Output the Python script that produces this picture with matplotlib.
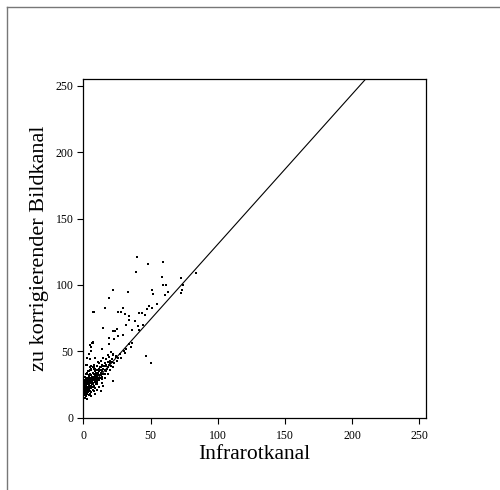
import matplotlib
matplotlib.use('Agg')
import matplotlib.pyplot as plt
from matplotlib.lines import Line2D

# Werte
infrarot = [
    # dichte Wolke nahe Ursprung
    1, 2, 3, 4, 1, 3, 5, 6,
    0.5, 1, 2, 2.5, 3, 4, 5, 6, 7, 8, 1.5, 0.5,
    0.5, 1, 2, 3, 3.5, 4, 5, 6, 7, 8, 9, 10, 2,
    0.5, 1, 2, 3, 4, 5, 6, 7, 8, 9, 10, 11, 12, 6, 3,
    1, 2, 4, 5, 6, 7, 8, 9, 10, 11, 12, 13, 14, 15, 3,
    4, 6, 7, 8, 9, 10, 11, 12, 13, 14, 15, 16, 17, 5,
    3, 6, 8, 10, 12, 14, 15, 16, 17, 18, 19, 20, 11,
    5, 9, 13, 15, 17, 19, 21, 22, 24, 25, 18, 23, 26,
    9, 10, 12, 14, 16, 18, 20, 22, 13, 15, 22.3,
    2, 3, 4, 6, 5, 7, 0.5, 1.5, 2.5, 4.5, 5.5, 6.5, 7.5, 8.5, 9.5, 11.5,
    1, 2, 3.5, 4.5, 5.5, 6.5, 7.5, 8.5, 9.5, 10.5, 11.5, 12.5, 13.5, 14.5,
    0.5, 1.5, 2.5, 3.5, 4.5, 5.5, 6.5, 7.5, 8.5, 9.5, 10.5, 11.5, 12.5,
    1.5, 2.5, 3.5, 4.5, 5.5, 6.5, 7.5, 8.5, 9.5, 10.5, 12, 13.5, 15.5, 16.5,
    0.5, 1, 1.5, 2, 3, 4, 2.5, 3.5, 5, 6, 7, 8, 9, 10,
    17.5, 18.5, 19.5, 20.5, 21.5, 16, 14, 12, 10.5, 27, 28, 30,
    # verstreute Punkte
    40.2, 59.5, 48.4, 39.2, 58.3, 72.7, 83.9, 59.1, 61.3, 74.4,
    73.2, 72.7, 51.1, 52.1, 63.2, 60.8, 33.0, 21.9, 18.9, 15.9,
    14.4, 55.1, 51.1, 49.1, 29.8, 25.8, 28.3, 31.3, 34.2, 41.7,
    43.9, 45.7, 47.2, 34.2, 38.5, 44.6, 40.9, 31.8, 36.5, 41.4,
    21.9, 23.4, 25.3, 25.6, 29.8, 19.3, 23.1, 13.7, 19.3, 34.2,
    36.0, 35.7, 31.8, 31.0, 46.7, 20.6, 22.3, 24.3, 50.4, 8.2,
    7.4, 6.7, 5.7, 7.4,
]
bildkanal = [
    15, 16, 14, 17, 18, 18, 18, 16,
    20, 21, 19, 22, 20, 21, 20, 19, 21, 20, 23, 24,
    25, 23, 24, 25, 23, 24, 26, 23, 25, 24, 22, 25, 26,
    27, 28, 29, 27, 28, 29, 27, 29, 28, 30, 27, 29, 28, 30, 30,
    31, 33, 31, 33, 32, 31, 33, 32, 31, 33, 32, 34, 31, 33, 34,
    35, 36, 34, 37, 35, 36, 34, 37, 36, 35, 37, 36, 35, 38,
    40, 39, 40, 39, 41, 40, 39, 41, 39, 42, 40, 41, 42,
    44, 45, 43, 45, 44, 46, 44, 47, 46, 43, 47, 41, 45,
    18, 21, 23, 26, 30, 33, 36, 38, 20, 24, 27.7,
    40, 45, 48, 50, 55, 56, 22, 26, 21, 27, 24, 28, 26, 31, 29, 30,
    17, 19, 19, 22, 22, 25, 23, 27, 25, 28, 30, 30, 32, 33,
    26, 27, 28, 26, 30, 28, 31, 30, 33, 34, 32, 36, 38,
    21, 23, 22, 25, 24, 27, 26, 29, 28, 31, 35, 38, 39, 40,
    19, 17, 22, 25, 29, 32, 33, 35, 36, 37, 38, 38, 37, 34,
    37, 38, 43, 39, 42, 33, 29, 29, 27, 48, 45, 50,
    121.3, 117.1, 115.8, 109.8, 106.3, 105.0, 108.8, 100.2, 100.2, 100.0,
    96.2, 94.2, 96.2, 93.2, 95.0, 92.5, 95.0, 96.2, 90.4, 82.4,
    67.8, 85.7, 82.4, 84.2, 82.9, 79.7, 79.9, 77.9, 76.6, 78.7,
    79.1, 77.2, 81.7, 73.6, 73.1, 69.9, 69.1, 69.9, 66.1, 66.1,
    65.3, 65.3, 66.6, 61.6, 62.3, 59.8, 59.3, 51.5, 55.3, 55.3,
    56.5, 53.0, 51.8, 48.5, 46.7, 49.7, 47.8, 46.5, 41.0, 79.9,
    79.9, 56.0, 53.5, 57.3,
]

# Regressionsgerade
achsenabschnitt = 17.5
steigung = 1.13
gerade_x = [0, (255 - achsenabschnitt) / steigung]
gerade_y = [achsenabschnitt + steigung * x for x in gerade_x]

ticks = [0, 50, 100, 150, 200, 250]

plt.rcParams['font.family'] = ['Liberation Serif', 'DejaVu Serif']

fig = plt.figure(figsize=(5, 4.9), dpi=100, facecolor='white')
ax = fig.add_axes([0.1667, 0.1476, 0.685, 0.691])

ax.scatter(infrarot, bildkanal, s=3.0, marker='s', color='black', linewidths=0)
ax.plot(gerade_x, gerade_y, color='black', linewidth=0.8)

ax.set_xlim(0, 255)
ax.set_ylim(0, 255)
ax.set_xticks(ticks)
ax.set_yticks(ticks)
ax.tick_params(direction='out', length=4, width=0.8, labelsize=8.5, pad=3,
               top=False, right=False)
ax.tick_params(axis='x', pad=5)
for sp in ax.spines.values():
    sp.set_linewidth(0.9)

ax.set_xlabel('Infrarotkanal', fontsize=15.5, labelpad=2)
ax.set_ylabel('zu korrigierender Bildkanal', fontsize=16, labelpad=5)

# Rahmen der gescannten Seite
fig.add_artist(Line2D([0.0146, 0.0146], [0.0, 0.985], transform=fig.transFigure,
                      color='#777777', linewidth=1))
fig.add_artist(Line2D([0.0146, 1.0], [0.985, 0.985], transform=fig.transFigure,
                      color='#777777', linewidth=1))

fig.savefig('out.png', dpi=100, facecolor='white')
